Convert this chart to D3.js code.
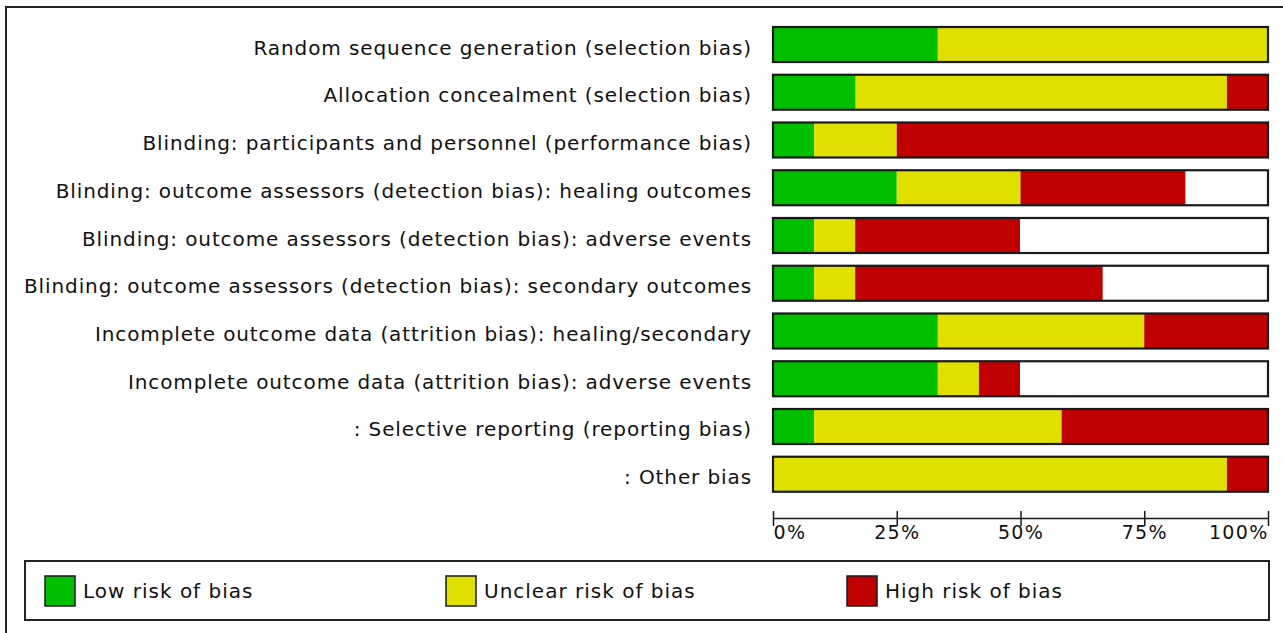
<!DOCTYPE html>
<html>
<head>
<meta charset="utf-8">
<script src="https://cdn.jsdelivr.net/npm/d3@7"></script>
<style>
  body { margin: 0; background: #fff; }
  text { font-family: "DejaVu Sans", sans-serif; fill: #111; }
</style>
</head>
<body>
<svg id="chart" width="1283" height="633"></svg>
<script>
// Risk of bias domains (rows, top to bottom)
const domains = [
  'Random sequence generation (selection bias)',
  'Allocation concealment (selection bias)',
  'Blinding: participants and personnel (performance bias)',
  'Blinding: outcome assessors (detection bias): healing outcomes',
  'Blinding: outcome assessors (detection bias): adverse events',
  'Blinding: outcome assessors (detection bias): secondary outcomes',
  'Incomplete outcome data (attrition bias): healing/secondary',
  'Incomplete outcome data (attrition bias): adverse events',
  ': Selective reporting (reporting bias)',
  ': Other bias'
];

// percent of studies per judgement
const lowRisk     = [33.3, 16.7,  8.3, 25.0,  8.3,  8.3, 33.3, 33.3,  8.3,  0.0];
const unclearRisk = [66.7, 75.0, 16.7, 25.0,  8.3,  8.3, 41.7,  8.3, 50.0, 91.7];
const highRisk    = [ 0.0,  8.3, 75.0, 33.3, 33.3, 50.0, 25.0,  8.3, 41.7,  8.3];

const tickValues = [0, 25, 50, 75, 100];
const tickLabels = ['0%', '25%', '50%', '75%', '100%'];

const legendLabels = ['Low risk of bias', 'Unclear risk of bias', 'High risk of bias'];
const colors = ['#00bf00', '#e0e000', '#c00000'];

const svg = d3.select('#chart');

// outer frame (runs off the right and bottom of the picture)
svg.append('rect')
  .attr('x', 6).attr('y', 7)
  .attr('width', 1300).attr('height', 700)
  .attr('fill', 'none')
  .attr('stroke', '#222')
  .attr('stroke-width', 2);

const x = d3.scaleLinear().domain([0, 100]).range([773, 1268]);
const y = d3.scaleBand().domain(domains).range([26, 492.75]).paddingInner(0.225).paddingOuter(0);

// stack the three series
const rows = domains.map((d, i) => ({ domain: d, low: lowRisk[i], unclear: unclearRisk[i], high: highRisk[i] }));
const stack = d3.stack().keys(['low', 'unclear', 'high'])(rows);

const layer = svg.append('g')
  .selectAll('g')
  .data(stack)
  .enter()
  .append('g')
  .attr('fill', (d, i) => colors[i]);

layer.selectAll('rect')
  .data(d => d)
  .enter()
  .append('rect')
  .attr('x', d => x(d[0]))
  .attr('width', d => x(d[1]) - x(d[0]))
  .attr('y', d => y(d.data.domain) + 1)
  .attr('height', y.bandwidth() - 2);

// bar outlines
svg.append('g')
  .selectAll('rect')
  .data(domains)
  .enter()
  .append('rect')
  .attr('x', x(0))
  .attr('y', d => y(d) + 1)
  .attr('width', x(100) - x(0))
  .attr('height', y.bandwidth() - 2)
  .attr('fill', 'none')
  .attr('stroke', '#1a1a1a')
  .attr('stroke-width', 2.2);

// row labels
svg.append('g')
  .selectAll('text')
  .data(domains)
  .enter()
  .append('text')
  .attr('x', 752)
  .attr('y', d => y(d) + y.bandwidth() / 2 + 10)
  .style('text-anchor', 'end')
  .style('font-size', '20px')
  .style('letter-spacing', '0.9px')
  .text(d => d);

// axis
const axisY = 518;
const axis = svg.append('g').attr('transform', `translate(0,${axisY})`);
axis.call(d3.axisBottom(x).tickValues(tickValues).tickSize(0).tickFormat(''))
  .select('.domain').attr('stroke', '#1a1a1a').attr('stroke-width', 1.5);
axis.selectAll('.tick line')
  .attr('y1', -7).attr('y2', 8)
  .attr('stroke', '#1a1a1a').attr('stroke-width', 1.5);
axis.selectAll('.tick text').remove();
axis.selectAll('.tick')
  .append('text')
  .attr('y', 21)
  .attr('fill', '#111')
  .style('font-size', '19px')
  .style('letter-spacing', '1.3px')
  .style('text-anchor', (d, i) => i === 0 ? 'start' : (i === tickValues.length - 1 ? 'end' : 'middle'))
  .text((d, i) => tickLabels[i]);

// legend
svg.append('rect')
  .attr('x', 25).attr('y', 561)
  .attr('width', 1244).attr('height', 59)
  .attr('fill', 'none')
  .attr('stroke', '#222')
  .attr('stroke-width', 2);

const lx = d3.scaleLinear().domain([0, 1]).range([45, 446]);
const legend = svg.append('g')
  .selectAll('g')
  .data(legendLabels)
  .enter()
  .append('g')
  .attr('transform', (d, i) => `translate(${lx(i)},0)`);

legend.append('rect')
  .attr('x', 0).attr('y', 576)
  .attr('width', 30).attr('height', 30)
  .attr('fill', (d, i) => colors[i])
  .attr('stroke', '#1a1a1a')
  .attr('stroke-width', 1.5);

legend.append('text')
  .attr('x', 38).attr('y', 598)
  .style('font-size', '20px')
  .style('letter-spacing', '1px')
  .text(d => d);
</script>
</body>
</html>
